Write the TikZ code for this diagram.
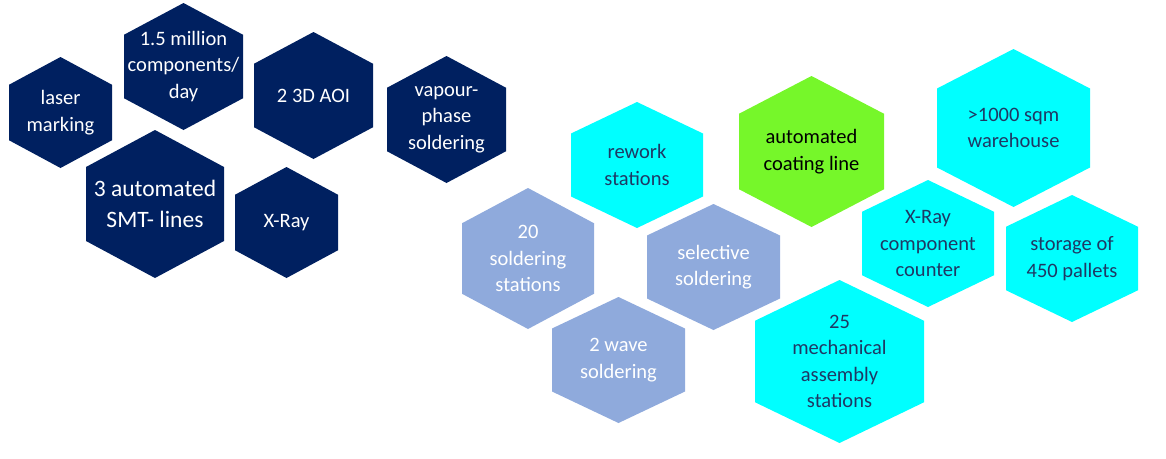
\documentclass[tikz,border=0pt]{standalone}
\usepackage{fontspec}
\setmainfont{Carlito}

\definecolor{hexnavy}{HTML}{002060}
\definecolor{hexsteel}{HTML}{8FAADC}
\definecolor{hexcyan}{HTML}{00FFFF}
\definecolor{hexgreen}{HTML}{76F72A}
\definecolor{hexink}{HTML}{1F3864}

\tikzset{dark cell/.style={fill=hexnavy,text=white},
         light cell/.style={fill=hexsteel,text=white},
         cyan cell/.style={fill=hexcyan,text=hexink},
         green cell/.style={fill=hexgreen,text=black}}

% name, style, centre x, centre y, half width, half height, text
\newcommand{\hexcell}[7]{%
  \fill[#2] (#3,#4) ++(0,-#6) -- ++(#5,0.5*#6) -- ++(0,#6) -- ++(-#5,0.5*#6)
            -- ++(-#5,-0.5*#6) -- ++(0,-#6) -- cycle;
  \node[#2,fill=none,align=center] (#1) at (#3,#4) {#7};
}

\begin{document}
\begin{tikzpicture}[x=1pt,y=-1pt,font=\fontsize{20.5}{26.5}\selectfont]
                  \useasboundingbox (0,0) rectangle (1166,458);
                  % machines
                  \hexcell{laser}{dark cell}{60.5}{112.5}{51.5}{55.5}{laser\\marking}
                  \hexcell{million}{dark cell}{183.5}{66.5}{59.5}{63.5}{1.5 million\\components/\\day}
                  \hexcell{aoi}{dark cell}{313.5}{95.5}{59.5}{63.5}{2 3D AOI}
                  \hexcell{vapour}{dark cell}{446.5}{119.5}{59.5}{63.5}{vapour-\\phase\\soldering}
                  \hexcell{smt}{dark cell,font=\fontsize{23.5}{31}\selectfont}{155}{204}{69}{74}{3 automated\\SMT- lines}
                  \hexcell{xray}{dark cell}{286.5}{222.5}{51.5}{55.5}{X-Ray}
                  % soldering
                  \hexcell{solder}{light cell}{528}{258.5}{66}{70.5}{20\\soldering\\stations}
                  \hexcell{selective}{light cell}{713.5}{267}{66.5}{63}{selective\\soldering}
                  \hexcell{wave}{light cell}{618.5}{360}{66.5}{63}{2 wave\\soldering}
                  % assembly and storage
                  \hexcell{rework}{cyan cell}{637}{165}{66}{63}{rework\\stations}
                  \hexcell{coating}{green cell}{811.5}{151.5}{72.5}{75.5}{automated\\coating line}
                  \hexcell{warehouse}{cyan cell}{1013.5}{128}{76.5}{79}{>1000 sqm\\warehouse}
                  \hexcell{counter}{cyan cell}{928}{243.5}{66}{63.5}{X-Ray\\component\\counter}
                  \hexcell{pallets}{cyan cell}{1072}{258.5}{66}{63.5}{storage of\\450 pallets}
                  \hexcell{mechanical}{cyan cell}{839.5}{361.5}{84.5}{81.5}{25\\mechanical\\assembly\\stations}
              \end{tikzpicture}
\end{document}
